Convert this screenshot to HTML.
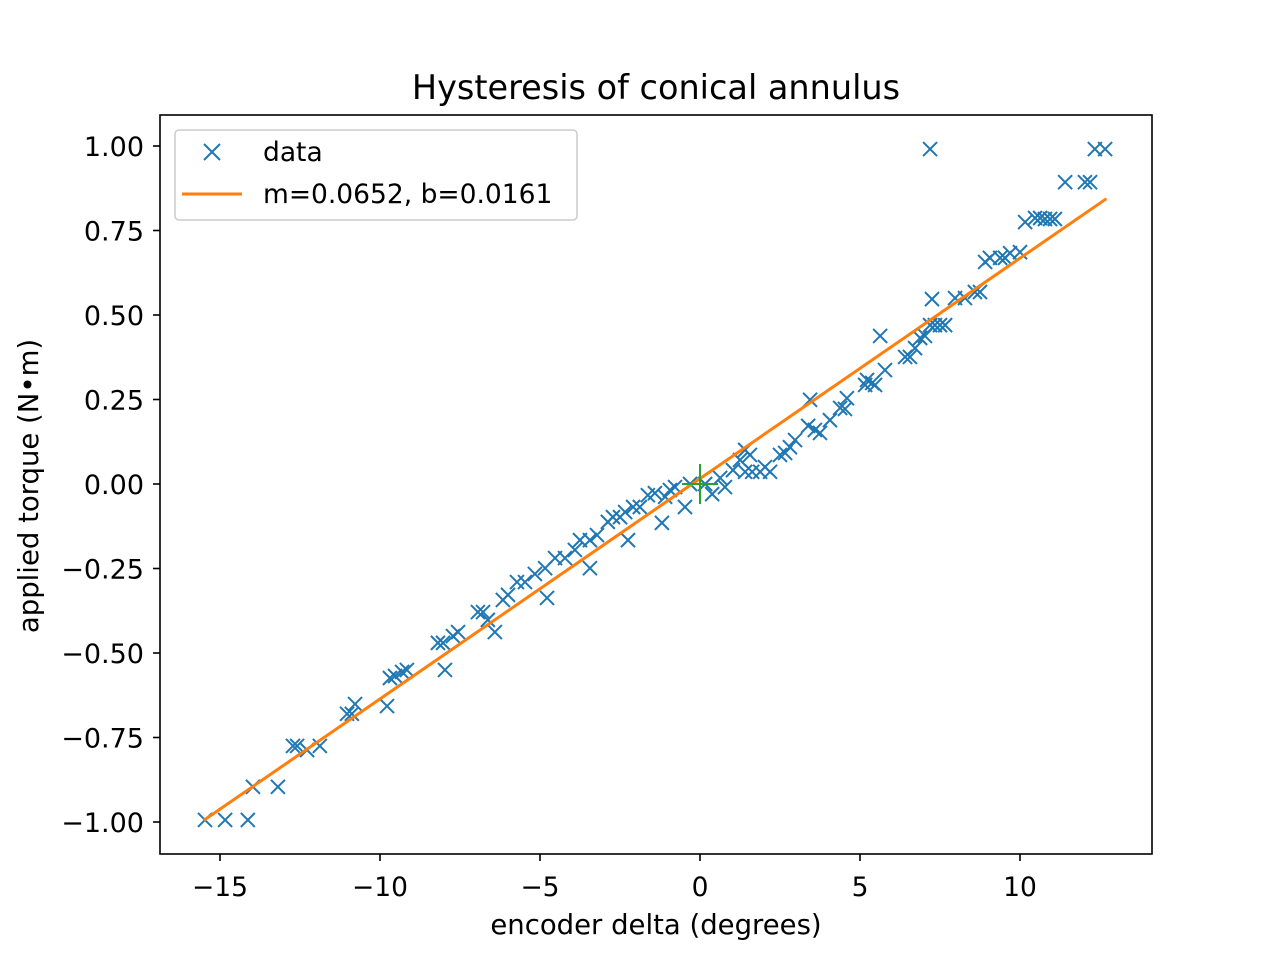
<!DOCTYPE html>
<html><head><meta charset="utf-8"><style>
body{margin:0;background:#fff}
svg text{font-family:"DejaVu Sans","Liberation Sans",sans-serif;fill:#000}
</style></head><body>
<svg id="chart" width="1280" height="960" xmlns="http://www.w3.org/2000/svg">
<rect width="1280" height="960" fill="#fff"/>
<text x="656" y="99" font-size="33.5" text-anchor="middle">Hysteresis of conical annulus</text>
<text x="656" y="934" font-size="27.5" text-anchor="middle">encoder delta (degrees)</text>
<text transform="translate(38,486) rotate(-90)" font-size="27.5" text-anchor="middle">applied torque (N•m)</text>
<g id="ticks"></g>
<g id="marks"></g>
<rect x="160" y="115" width="992" height="739" fill="none" stroke="#000" stroke-width="1.6"/>
<g>
<rect x="175" y="130" width="402" height="90" rx="4" fill="#fff" fill-opacity="0.8" stroke="#ccc" stroke-width="1.5"/>
<path d="M204,144 L220,160 M220,144 L204,160" stroke="#1f77b4" stroke-width="2"/>
<text x="263" y="161" font-size="26.5">data</text>
<line x1="182" y1="194" x2="242" y2="194" stroke="#ff7f0e" stroke-width="3"/>
<text x="263" y="203" font-size="26.5">m=0.0652, b=0.0161</text>
</g>
</svg>
<script>
const xTicks=[-15,-10,-5,0,5,10];
const xTickLabels=["−15","−10","−5","0","5","10"];
const yTicks=[1,0.75,0.5,0.25,0,-0.25,-0.5,-0.75,-1];
const yTickLabels=["1.00","0.75","0.50","0.25","0.00","−0.25","−0.50","−0.75","−1.00"];
const dataX=[-15.47,-14.84,-14.13,-13.97,-13.19,-12.72,-12.59,-12.28,-11.88,-11.03,-10.88,-10.78,-9.78,-9.69,-9.53,-9.31,-9.16,-8.19,-8.03,-7.97,-7.72,-7.56,-6.94,-6.78,-6.63,-6.41,-6.16,-6.0,-5.72,-5.47,-5.16,-4.84,-4.78,-4.53,-4.22,-3.91,-3.75,-3.44,-3.44,-3.22,-2.88,-2.72,-2.5,-2.25,-2.34,-2.09,-1.88,-1.63,-1.41,-1.19,-1.09,-0.94,-0.78,-0.47,-0.31,0.16,0.38,0.63,0.78,1.03,1.25,1.41,1.56,1.41,1.63,1.88,2.03,2.19,2.5,2.66,2.81,2.97,3.38,3.44,3.59,3.75,4.06,4.53,4.38,4.59,5.16,5.22,5.38,5.47,5.78,5.63,6.41,6.56,6.72,6.88,7.03,7.19,7.25,7.34,7.5,7.66,7.97,8.28,8.59,8.75,8.91,9.06,9.38,9.53,9.69,10.0,10.16,10.47,10.63,10.78,10.94,11.09,11.41,12.03,12.19,12.34,12.66,7.19];
const dataY=[-0.994,-0.994,-0.994,-0.896,-0.896,-0.775,-0.775,-0.787,-0.775,-0.680,-0.680,-0.651,-0.657,-0.574,-0.568,-0.556,-0.550,-0.470,-0.470,-0.550,-0.450,-0.438,-0.379,-0.379,-0.402,-0.438,-0.343,-0.328,-0.290,-0.290,-0.266,-0.249,-0.337,-0.219,-0.219,-0.195,-0.166,-0.166,-0.249,-0.151,-0.112,-0.098,-0.098,-0.166,-0.083,-0.068,-0.068,-0.033,-0.027,-0.115,-0.038,-0.018,-0.009,-0.068,0,0,-0.030,0.018,-0.009,0.041,0.071,0.101,0.086,0.036,0.036,0.036,0.050,0.036,0.086,0.092,0.109,0.130,0.172,0.249,0.160,0.151,0.189,0.222,0.225,0.254,0.293,0.308,0.299,0.293,0.337,0.438,0.376,0.376,0.402,0.432,0.438,0.470,0.547,0.470,0.470,0.470,0.550,0.550,0.568,0.568,0.657,0.669,0.669,0.669,0.683,0.686,0.775,0.787,0.787,0.784,0.784,0.784,0.893,0.893,0.893,0.991,0.991,0.991];
const fitM=0.0652, fitB=0.0161, fitX0=-15.5, fitX1=12.7;
const NS="http://www.w3.org/2000/svg";
const sx=v=>700+32*v, sy=v=>484-338*v;
const ticks=document.getElementById('ticks'), marks=document.getElementById('marks');
function mk(tag,attrs,parent){const e=document.createElementNS(NS,tag);for(const k in attrs)e.setAttribute(k,attrs[k]);parent.appendChild(e);return e;}
xTicks.forEach((v,i)=>{
  const l=mk('line',{x1:sx(v),x2:sx(v),y1:854,y2:861,stroke:'#000','stroke-width':1.6},ticks);
  
  
  const t=mk('text',{x:sx(v),y:896,'font-size':26.5,'text-anchor':'middle'},ticks);t.textContent=xTickLabels[i];
  
  
});
yTicks.forEach((v,i)=>{
  const l=mk('line',{x1:153,x2:160,y1:sy(v),y2:sy(v),stroke:'#000','stroke-width':1.6},ticks);
  
  
  const t=mk('text',{x:144,y:sy(v)+10,'font-size':27,'text-anchor':'end'},ticks);t.textContent=yTickLabels[i];
  
  
});
dataX.forEach((x,i)=>{
  const X=sx(x),Y=sy(dataY[i]);
  const p=mk('path',{d:`M${X-7},${Y-7}L${X+7},${Y+7}M${X+7},${Y-7}L${X-7},${Y+7}`,stroke:'#1f77b4','stroke-width':2,fill:'none'},marks);
  
  
});
const fl=mk('line',{x1:sx(fitX0),y1:sy(fitM*fitX0+fitB),x2:sx(fitX1),y2:sy(fitM*fitX1+fitB),stroke:'#ff7f0e','stroke-width':3},marks);


const og=mk('path',{d:`M${sx(0)},${sy(0)-20}L${sx(0)},${sy(0)+20}M${sx(0)-18},${sy(0)}L${sx(0)+18},${sy(0)}`,stroke:'#2ca02c','stroke-width':2},marks);


</script>
</body></html>
